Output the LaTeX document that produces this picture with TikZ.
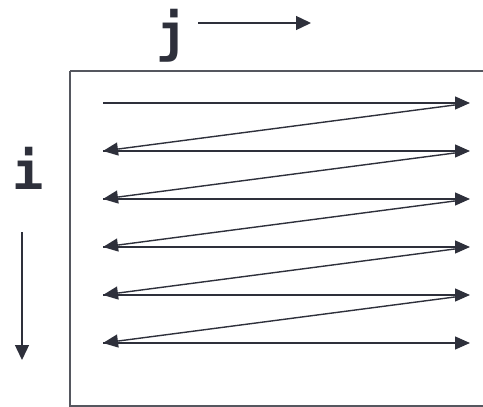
\documentclass[tikz,border=0pt]{standalone}
\usepackage{fontspec}
\setmonofont{DejaVu Sans Mono}
\usetikzlibrary{arrows.meta}
\definecolor{ink}{HTML}{2E303B}
\definecolor{frame}{HTML}{55575F}
\tikzset{
  flow/.style={draw=ink, line width=1.4pt, -{Triangle[length=15pt,width=13pt]}},
  axis/.style={draw=ink, line width=1.4pt, -{Triangle[length=15pt,width=14pt]}},
  lbl/.style={text=ink, font=\ttfamily\bfseries\fontsize{52}{52}\selectfont, inner sep=0pt},
}
\begin{document}
\begin{tikzpicture}[x=1pt,y=-1pt]
  \clip (0,0) rectangle (483,407);
  % matrix frame, running past the right edge
  \draw[frame, line width=1.5pt] (70,71) -- (500,71) (70,71) -- (70,406) -- (500,406);
  % axis labels with their directions
  \node[lbl] (j) at (172,36) {j};
  \coordinate (ja) at (198,23);
  \coordinate (jb) at (311,23);
  \draw[axis] (ja) -- (jb);
  \node[lbl] (i) at (28,168) {i};
  \coordinate (ia) at (22,232);
  \coordinate (ib) at (22,360);
  \draw[axis] (ia) -- (ib);
  % row-major traversal
  \foreach \k/\y in {1/103,2/151,3/199,4/247,5/295,6/343}{
    \coordinate (L\k) at (103,\y);
    \coordinate (R\k) at (470,\y);
    \draw[flow] (L\k) -- (R\k);
  }
  \foreach \k [evaluate=\k as \n using int(\k+1)] in {1,...,5}{
    \draw[flow, shorten <=14pt] (R\k) -- (L\n);
  }
\end{tikzpicture}
\end{document}
